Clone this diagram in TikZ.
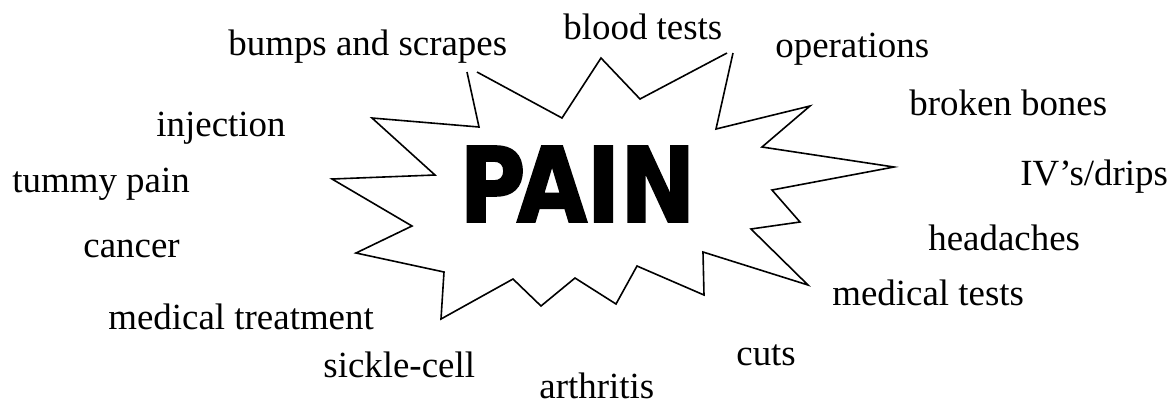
\documentclass[tikz,border=0pt]{standalone}
\usepackage{fontspec}
\setmainfont{Liberation Serif}
\newfontfamily\painfont{DejaVu Sans}[BoldFeatures={FakeBold=2.5}]
\usepackage{graphicx}
\usepackage{tikz}

\tikzset{
  word/.style={anchor=base west, inner sep=0pt, font=\fontsize{18.45}{22}\selectfont},
  burst/.style={line width=0.8pt, line join=miter}
}

\begin{document}
\begin{tikzpicture}[x=0.5pt, y=-0.5pt]
\useasboundingbox (0,0) rectangle (1175,404);
% Starburst outline (two top tips cut off under the labels)
\draw[burst] (477,72) -- (562,118) -- (601,58) -- (640,99) -- (727,53);
\draw[burst] (733,53) -- (716,129) -- (810,106) -- (762,147) -- (894,167)
  -- (772,190) -- (800,222) -- (751,229) -- (808,285) -- (703,252)
  -- (704,295) -- (637,266) -- (616,304) -- (575,278) -- (541,306)
  -- (513,279) -- (441,319) -- (444,272) -- (356,253) -- (412,226)
  -- (332,179) -- (435,175) -- (372,118) -- (479,127) -- (467,72);
% Centre word
\node (pain) at (577.5,184) {\resizebox{118pt}{37.5pt}{\painfont\bfseries PAIN}};
% Labels round the burst
\node[word] (bumps) at (228,55) {bumps and scrapes};
\node[word] (blood) at (563,39) {blood tests};
\node[word] (operations) at (775,57) {operations};
\node[word] (broken) at (909,115) {broken bones};
\node[word] (drips) at (1020,185) {IV’s/drips};
\node[word] (headaches) at (928,250) {headaches};
\node[word] (medtests) at (832,305) {medical tests};
\node[word] (cuts) at (736,365) {cuts};
\node[word] (arthritis) at (539,398) {arthritis};
\node[word] (sickle) at (323,377) {sickle-cell};
\node[word] (medtreat) at (108,329) {medical treatment};
\node[word] (cancer) at (83,257) {cancer};
\node[word] (tummy) at (12,192) {tummy pain};
\node[word] (injection) at (156,136) {injection};
\end{tikzpicture}
\end{document}
